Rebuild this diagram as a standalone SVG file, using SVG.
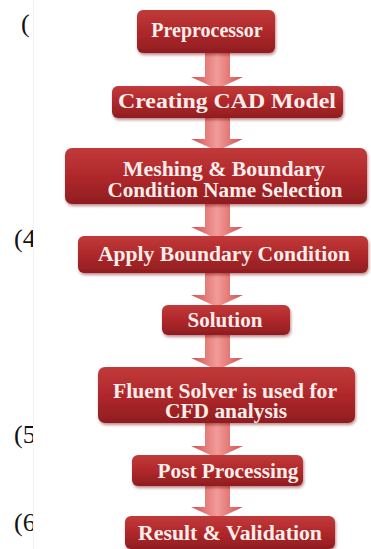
<svg xmlns="http://www.w3.org/2000/svg" width="371" height="549" viewBox="0 0 371 549">
<defs>
<linearGradient id="boxg" x1="0" y1="0" x2="0" y2="1">
<stop offset="0" stop-color="#c13a3a"/>
<stop offset="0.5" stop-color="#b0282b"/>
<stop offset="1" stop-color="#8f1d20"/>
</linearGradient>
<linearGradient id="arrg" x1="0" y1="0" x2="1" y2="0">
<stop offset="0" stop-color="#d4504d"/>
<stop offset="0.5" stop-color="#f19c99"/>
<stop offset="1" stop-color="#d4504d"/>
</linearGradient>
<filter id="sh" x="-10%" y="-20%" width="120%" height="150%">
<feDropShadow dx="1" dy="2" stdDeviation="1.5" flood-color="#6a1010" flood-opacity="0.45"/>
</filter>
<clipPath id="lc"><rect x="0" y="0" width="33" height="549"/></clipPath>
</defs>
<style>
.box{fill:url(#boxg);filter:url(#sh)}
.t{font-family:"Liberation Serif","Times New Roman",serif;font-weight:bold;font-size:20px;fill:#fbeeea;text-anchor:middle}
.arr{fill:url(#arrg)}
.num{font-family:"Liberation Serif","Times New Roman",serif;font-size:26px;fill:#111}
</style>
<rect width="371" height="549" fill="#fff"/>
<line x1="33.5" y1="0" x2="33.5" y2="549" stroke="#f3f3f3" stroke-width="1"/>
<g clip-path="url(#lc)">
<text class="num" x="21" y="32">(</text>
<text class="num" x="14" y="247">(4</text>
<text class="num" x="14" y="443">(5</text>
<text class="num" x="14" y="531">(6</text>
</g>
<g id="connectors">
<path class="arr" d="M205,53 H230 V77 H243 L217,89 L191,77 H205 Z"/>
<path class="arr" d="M205,118 H230 V139 H243 L217,151 L191,139 H205 Z"/>
<path class="arr" d="M205,204 H230 V227 H243 L217,239 L191,227 H205 Z"/>
<path class="arr" d="M205,273 H230 V295 H243 L217,307 L191,295 H205 Z"/>
<path class="arr" d="M205,335 H230 V358 H243 L217,370 L191,358 H205 Z"/>
<path class="arr" d="M205,423 H230 V446 H243 L217,458 L191,446 H205 Z"/>
<path class="arr" d="M205,486 H230 V507 H243 L217,519 L191,507 H205 Z"/>
</g>
<g id="n1"><rect class="box" x="137" y="10" width="138" height="43" rx="6"/><text class="t" x="207" y="37">Preprocessor</text></g>
<g id="n2"><rect class="box" x="112" y="86" width="231" height="32" rx="6"/><text class="t" x="227" y="108" textLength="218" lengthAdjust="spacingAndGlyphs">Creating CAD Model</text></g>
<g id="n3"><rect class="box" x="65" y="148" width="302" height="56" rx="7"/><text class="t" x="224" y="176" textLength="202" lengthAdjust="spacingAndGlyphs">Meshing &amp; Boundary</text><text class="t" x="225" y="197" textLength="235" lengthAdjust="spacingAndGlyphs">Condition Name Selection</text></g>
<g id="n4"><rect class="box" x="78" y="236" width="290" height="37" rx="6"/><text class="t" x="224" y="261" textLength="252" lengthAdjust="spacingAndGlyphs">Apply Boundary Condition</text></g>
<g id="n5"><rect class="box" x="162" y="305" width="128" height="30" rx="6"/><text class="t" x="225" y="327" textLength="75" lengthAdjust="spacingAndGlyphs">Solution</text></g>
<g id="n6"><rect class="box" x="98" y="367" width="257" height="56" rx="7"/><text class="t" x="225" y="398" textLength="224" lengthAdjust="spacingAndGlyphs">Fluent Solver is used for</text><text class="t" x="226" y="418" textLength="122" lengthAdjust="spacingAndGlyphs">CFD analysis</text></g>
<g id="n7"><rect class="box" x="132" y="455" width="171" height="31" rx="6"/><text class="t" x="228" y="478" textLength="141" lengthAdjust="spacingAndGlyphs">Post Processing</text></g>
<g id="n8"><rect class="box" x="125" y="516" width="210" height="33" rx="6"/><text class="t" x="230" y="540" textLength="184" lengthAdjust="spacingAndGlyphs">Result &amp; Validation</text></g>
</svg>
